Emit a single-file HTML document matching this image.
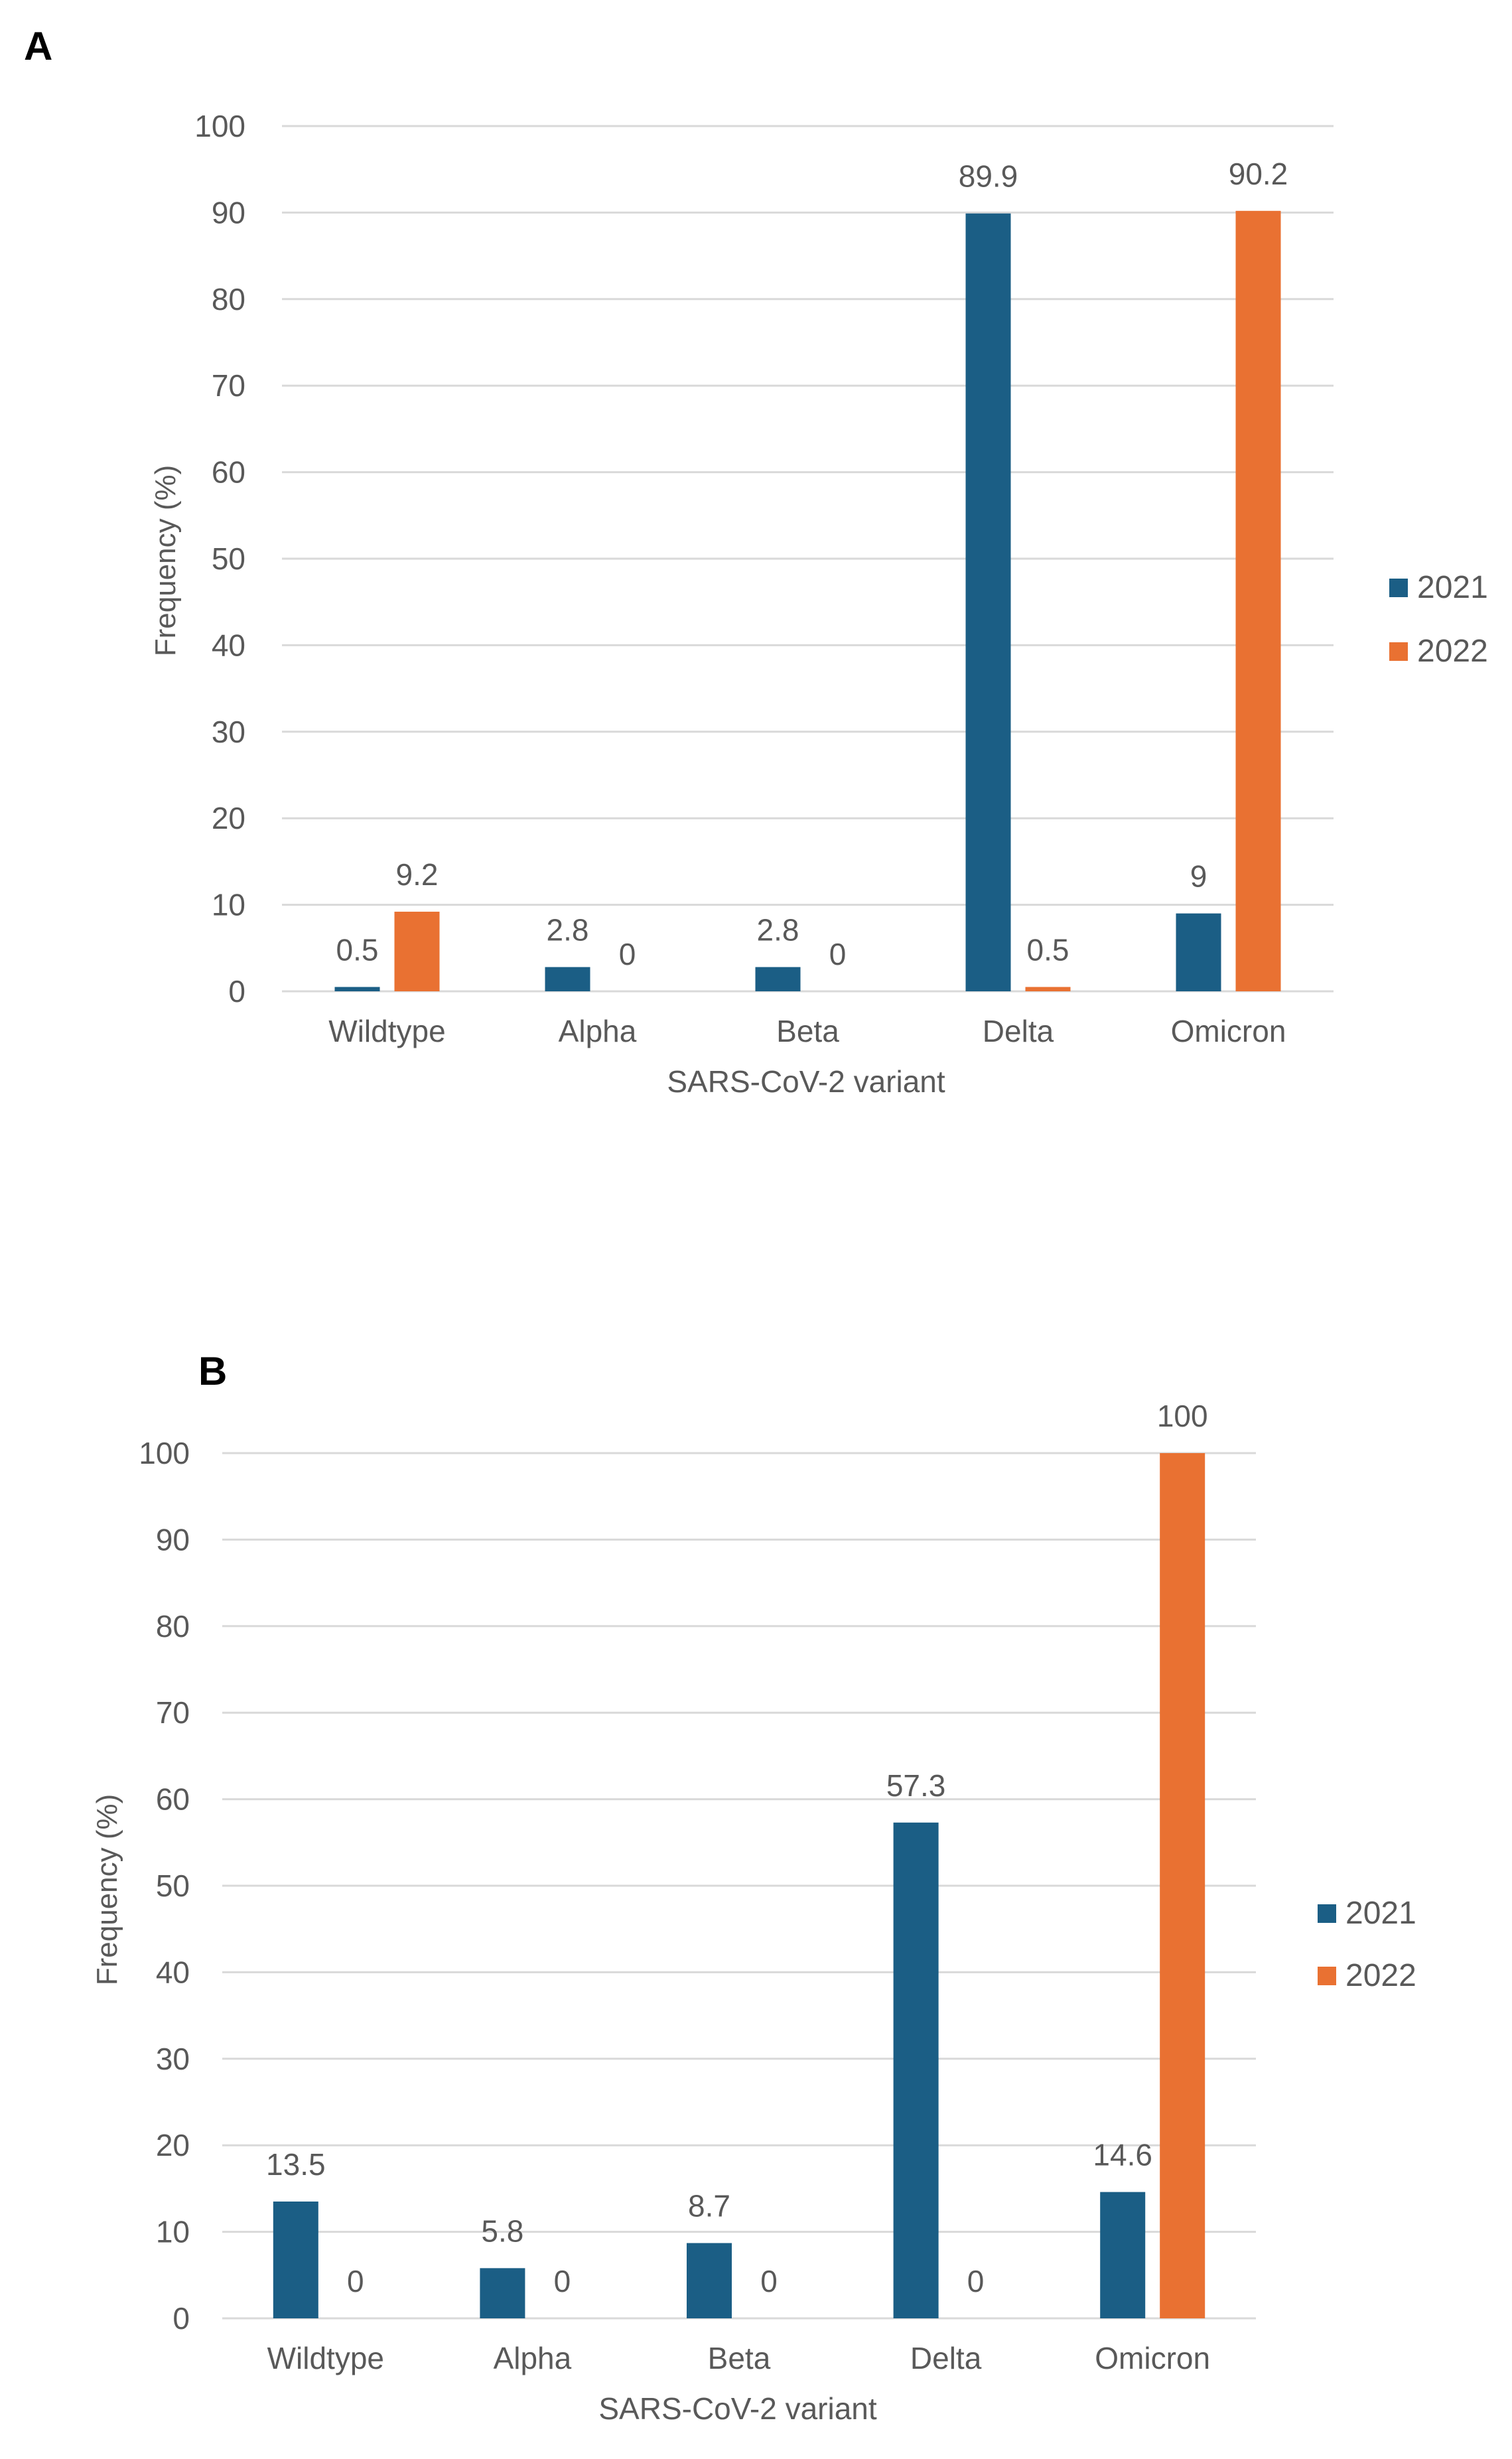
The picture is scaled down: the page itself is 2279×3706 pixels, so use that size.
<!DOCTYPE html>
<html><head><meta charset="utf-8"><style>
html,body{margin:0;padding:0;background:#fff;}
svg{display:block;}
text{font-family:"Liberation Sans Narrow","Liberation Sans",sans-serif;fill:#595959;}
</style></head>
<body>
<svg id="fig" width="2279" height="3706" viewBox="0 0 2279 3706" xmlns="http://www.w3.org/2000/svg">
<rect width="2279" height="3706" fill="#fff"/>
<text x="36" y="90" style="font-family:'Liberation Sans',sans-serif;font-weight:bold;font-size:60px;fill:#000">A</text>
<text x="299" y="2087" style="font-family:'Liberation Sans',sans-serif;font-weight:bold;font-size:60px;fill:#000">B</text>
</svg>
<script>
const categories = ["Wildtype","Alpha","Beta","Delta","Omicron"];
const seriesNames = ["2021","2022"];
const panelA2021 = [0.5, 2.8, 2.8, 89.9, 9];
const panelA2022 = [9.2, 0, 0, 0.5, 90.2];
const panelB2021 = [13.5, 5.8, 8.7, 57.3, 14.6];
const panelB2022 = [0, 0, 0, 0, 100];
const yTicks = [0,10,20,30,40,50,60,70,80,90,100];
const colors = ["#1b5e85","#e97132"];

const NS = "http://www.w3.org/2000/svg";
const svg = document.getElementById('fig');
function mk(tag, attrs, parent, txt){
  const e = document.createElementNS(NS, tag);
  for (const k in attrs) e.setAttribute(k, attrs[k]);
  if (txt !== undefined) e.textContent = txt;
  (parent || svg).appendChild(e);
  return e;
}
function drawPanel(p, s1, s2){
  const g = mk('g', {});
  
  
  const y = v => p.y0 - (v / 100) * (p.y0 - p.y100);
  const cw = (p.x1 - p.x0) / categories.length;
  const xc = i => p.x0 + cw * (i + 0.5);
  yTicks.forEach(t => {
    const l = mk('line', {x1:p.x0, x2:p.x1, y1:y(t), y2:y(t), stroke:'#d9d9d9', 'stroke-width':3}, g);
    
    
    const tx = mk('text', {x:p.tickX, y:y(t)+16, 'text-anchor':'end', 'font-size':46}, g, String(t));
    
    
  });
  const bw = 68, gap = 22;
  [s1, s2].forEach((arr, si) => {
    arr.forEach((v, i) => {
      const bx = si === 0 ? xc(i) - gap/2 - bw : xc(i) + gap/2;
      const r = mk('rect', {x:bx, y:y(v), width:bw, height:Math.max(0, y(0)-y(v)), fill:colors[si]}, g);
      
      
      const lb = mk('text', {x:bx + bw/2, y:y(v) - 40, 'text-anchor':'middle', 'font-size':46}, g, String(v));
      
      
    });
  });
  categories.forEach((c, i) => {
    const t = mk('text', {x:xc(i), y:p.xlabY, 'text-anchor':'middle', 'font-size':46}, g, c);
    
    
  });
  const xt = mk('text', {x:p.xTitleX, y:p.xTitleY, 'text-anchor':'middle', 'font-size':46}, g, 'SARS-CoV-2 variant');
  
  
  const yt = mk('text', {x:0, y:0, 'text-anchor':'middle', 'font-size':44, transform:'translate(' + (p.yTitleX) + ',' + p.yTitleY + ') rotate(-90)', style:"font-family:'Liberation Sans',sans-serif"}, g, 'Frequency (%)');
  
  
  seriesNames.forEach((n, si) => {
    const ly = p.legY + si * p.legDy;
    const sq = mk('rect', {x:p.legX, y:ly, width:28, height:28, fill:colors[si]}, g);
    
    
    const lt = mk('text', {x:p.legX + 42, y:ly + 29, 'font-size':48}, g, n);
    
    
  });
}
drawPanel({id:'a', x0:425, x1:2010, y0:1494, y100:190, tickX:370, xlabY:1570, xTitleX:1215, xTitleY:1646, yTitleX:264, yTitleY:845, legX:2094, legY:872, legDy:96}, panelA2021, panelA2022);
drawPanel({id:'b', x0:335, x1:1893, y0:3494, y100:2190, tickX:286, xlabY:3570, xTitleX:1112, xTitleY:3646, yTitleX:176, yTitleY:2848, legX:1986, legY:2870, legDy:94}, panelB2021, panelB2022);
</script>
</body></html>
